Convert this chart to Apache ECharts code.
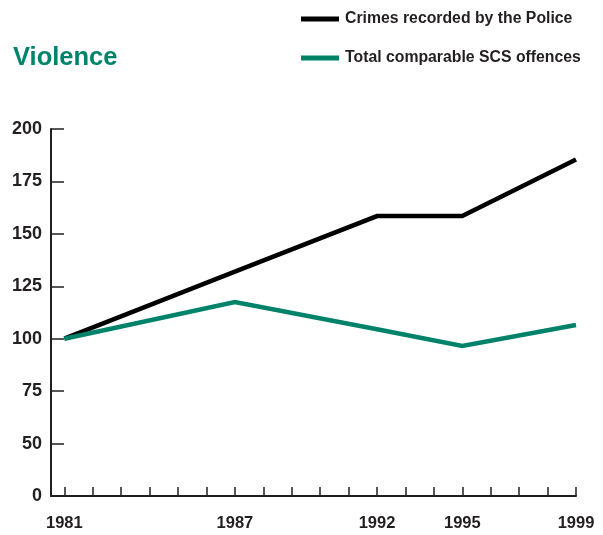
<!DOCTYPE html>
<html>
<head>
<meta charset="utf-8">
<style>
  html, body { margin: 0; padding: 0; background: #fff; }
  #chart { width: 603px; height: 535px; }
</style>
<script src="https://cdn.jsdelivr.net/npm/echarts@6/dist/echarts.min.js"></script>
</head>
<body>
<div id="chart"></div>
<script>
// Index values (1981 = 100)
const policeYears = [1981, 1987, 1992, 1995, 1999];
const policeValues = [100, 132, 158.5, 158.5, 185.5];
const scsYears = [1981, 1987, 1992, 1995, 1999];
const scsValues = [100, 117.5, 104.5, 96.5, 106.5];

const tickYears = [1981, 1982, 1983, 1984, 1985, 1986, 1987, 1988, 1989, 1990,
                   1991, 1992, 1993, 1994, 1995, 1996, 1997, 1998, 1999];
const labelYears = [1981, 1987, 1992, 1995, 1999];

const seriesNames = ['Crimes recorded by the Police', 'Total comparable SCS offences'];
const titleText = 'Violence';

const ink = '#231f20';
const green = '#00836a';
const font = '"Liberation Sans", Arial, sans-serif';

const chart = echarts.init(document.getElementById('chart'), null, { renderer: 'canvas' });

chart.setOption({
  animation: false,
  backgroundColor: '#fff',
  title: {
    text: titleText,
    left: 8,
    top: 40,
    textStyle: { color: green, fontFamily: font, fontWeight: 'bold', fontSize: 25.5 }
  },
  legend: {
    orient: 'vertical',
    left: 296,
    top: 6,
    itemWidth: 38,
    itemHeight: 5,
    itemGap: 23,
    icon: 'rect',
    textStyle: { color: ink, fontFamily: font, fontWeight: 'bold', fontSize: 15.8, padding: [0, 0, 0, 1] },
    data: seriesNames
  },
  grid: { left: 51, right: 27, top: 129, bottom: 39, containLabel: false },
  xAxis: {
    type: 'value',
    min: 1980.53,
    max: 1999,
    axisLine: { show: true, lineStyle: { color: ink, width: 2 } },
    axisTick: {
      show: true, inside: true, length: 9,
      customValues: tickYears,
      lineStyle: { color: ink, width: 1.5 }
    },
    axisLabel: {
      customValues: labelYears,
      margin: 19,
      color: ink, fontFamily: font, fontWeight: 'bold', fontSize: 16.5,
      formatter: v => String(v)
    },
    splitLine: { show: false }
  },
  yAxis: {
    type: 'value',
    min: 25,
    max: 200,
    interval: 25,
    axisLine: { show: true, lineStyle: { color: ink, width: 2 } },
    axisTick: { show: true, inside: true, length: 13, lineStyle: { color: ink, width: 1.5 } },
    axisLabel: {
      margin: 9,
      color: ink, fontFamily: font, fontWeight: 'bold', fontSize: 18,
      formatter: v => (v === 25 ? '0' : String(v))
    },
    splitLine: { show: false }
  },
  series: [
    {
      name: seriesNames[0],
      type: 'line',
      data: policeYears.map((y, i) => [y, policeValues[i]]),
      symbol: 'none',
      color: '#000',
      lineStyle: { color: '#000', width: 4.5, join: 'miter' }
    },
    {
      name: seriesNames[1],
      type: 'line',
      data: scsYears.map((y, i) => [y, scsValues[i]]),
      symbol: 'none',
      color: green,
      lineStyle: { color: green, width: 4.5, join: 'miter' }
    }
  ]
});
</script>
</body>
</html>
